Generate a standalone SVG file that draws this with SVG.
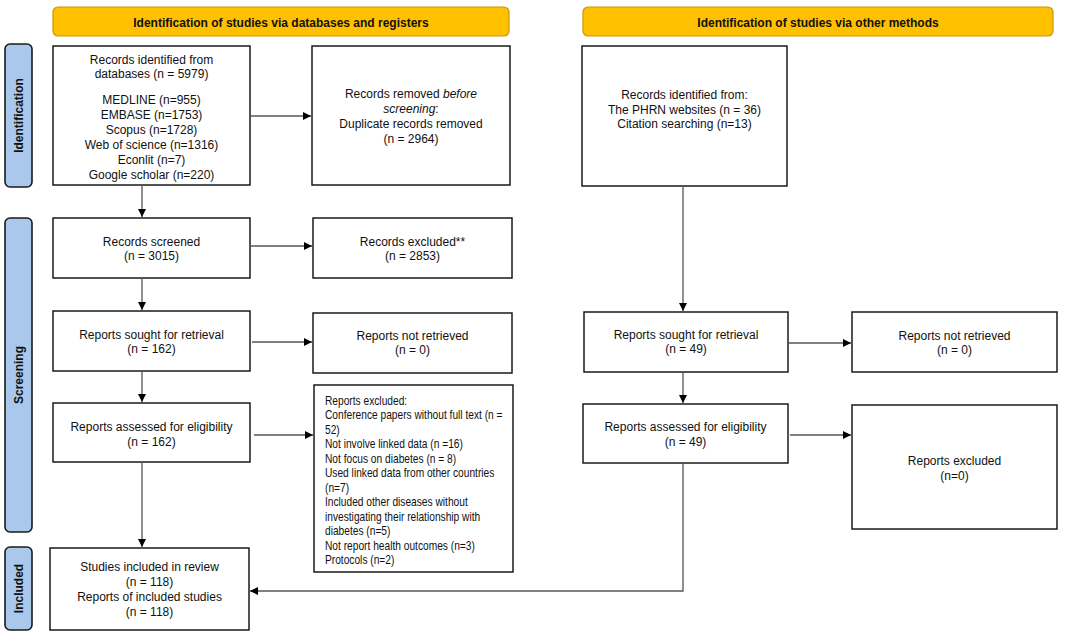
<svg xmlns="http://www.w3.org/2000/svg" width="1084" height="639" viewBox="0 0 1084 639">
<defs>
<marker id="ah" viewBox="0 0 10 10" refX="10" refY="5" markerWidth="8" markerHeight="8" markerUnits="userSpaceOnUse" orient="auto"><path d="M0,0 L10,5 L0,10 z" fill="#000"/></marker>
<style>
.hdr{fill:#FFC000;stroke:#C99800;stroke-width:1.2}
.side{fill:#A9C8EC;stroke:#1a1a1a;stroke-width:1.6}
.box{fill:#fff;stroke:#1a1a1a;stroke-width:1.5}
text{font-family:"Liberation Sans",Arial,sans-serif;font-size:12px;fill:#111}
.c{text-anchor:middle}
.b{font-weight:bold}
.conn{fill:none;stroke:#555;stroke-width:1.3}
</style>
</defs>
<rect width="1084" height="639" fill="#fff"/>
<g id="header-db"><rect class="hdr" x="53" y="7" width="456" height="29" rx="5"/><text class="c b" x="281" y="27">Identification of studies via databases and registers</text></g>
<g id="header-other"><rect class="hdr" x="583" y="7" width="470" height="29" rx="5"/><text class="c b" x="818" y="27">Identification of studies via other methods</text></g>
<g id="side-identification"><rect class="side" x="5" y="44" width="27" height="143" rx="5"/><text class="c b" transform="translate(23,115.5) rotate(-90)">Identification</text></g>
<g id="side-screening"><rect class="side" x="5" y="218" width="27" height="314" rx="5"/><text class="c b" transform="translate(23,375) rotate(-90)">Screening</text></g>
<g id="side-included"><rect class="side" x="5" y="547" width="27" height="83" rx="5"/><text class="c b" transform="translate(23,588.5) rotate(-90)">Included</text></g>
<g id="records-identified"><rect class="box" x="53" y="46" width="197" height="139"/>
<text class="c" x="151.5" y="64">Records identified from</text><text class="c" x="151.5" y="78">databases (n = 5979)</text>
<text class="c" x="151.5" y="104">MEDLINE (n=955)</text><text class="c" x="151.5" y="119">EMBASE (n=1753)</text><text class="c" x="151.5" y="134">Scopus (n=1728)</text><text class="c" x="151.5" y="149">Web of science (n=1316)</text><text class="c" x="151.5" y="164">Econlit (n=7)</text><text class="c" x="151.5" y="179">Google scholar (n=220)</text></g>
<g id="records-removed"><rect class="box" x="312" y="46" width="198" height="139"/>
<text class="c" x="411" y="98">Records removed <tspan font-style="italic">before</tspan></text><text class="c" x="411" y="113"><tspan font-style="italic">screening</tspan>:</text><text class="c" x="411" y="128">Duplicate records removed</text><text class="c" x="411" y="143">(n = 2964)</text></g>
<g id="records-other"><rect class="box" x="582" y="46" width="205" height="140"/>
<text class="c" x="684.5" y="99">Records identified from:</text><text class="c" x="684.5" y="114">The PHRN websites (n = 36)</text><text class="c" x="684.5" y="128">Citation searching (n=13)</text></g>
<g id="records-screened"><rect class="box" x="53" y="218" width="197" height="60"/><text class="c" x="151.5" y="246">Records screened</text><text class="c" x="151.5" y="260">(n = 3015)</text></g>
<g id="records-excluded"><rect class="box" x="313" y="218" width="199" height="60"/><text class="c" x="412.5" y="246">Records excluded**</text><text class="c" x="412.5" y="260">(n = 2853)</text></g>
<g id="sought-db"><rect class="box" x="53" y="311" width="197" height="60"/><text class="c" x="151.5" y="339">Reports sought for retrieval</text><text class="c" x="151.5" y="353">(n = 162)</text></g>
<g id="not-retrieved-db"><rect class="box" x="313" y="313" width="199" height="60"/><text class="c" x="412.5" y="340">Reports not retrieved</text><text class="c" x="412.5" y="354">(n = 0)</text></g>
<g id="assessed-db"><rect class="box" x="53" y="403" width="197" height="59"/><text class="c" x="151.5" y="431">Reports assessed for eligibility</text><text class="c" x="151.5" y="446">(n = 162)</text></g>
<g id="excluded-db"><rect class="box" x="314" y="385" width="199" height="187"/>
<g transform="translate(325,0) scale(0.85,1)">
<text x="0" y="405">Reports excluded:</text>
<text x="0" y="419.5">Conference papers without full text (n =</text>
<text x="0" y="434">52)</text>
<text x="0" y="448.5">Not involve linked data (n =16)</text>
<text x="0" y="463">Not focus on diabetes (n = 8)</text>
<text x="0" y="477.5">Used linked data from other countries</text>
<text x="0" y="492">(n=7)</text>
<text x="0" y="506.5">Included other diseases without</text>
<text x="0" y="521">investigating their relationship with</text>
<text x="0" y="535.5">diabetes (n=5)</text>
<text x="0" y="550">Not report health outcomes (n=3)</text>
<text x="0" y="564.5">Protocols (n=2)</text>
</g></g>
<g id="included"><rect class="box" x="50" y="548" width="199" height="82"/>
<text class="c" x="149.5" y="571">Studies included in review</text><text class="c" x="149.5" y="586">(n = 118)</text><text class="c" x="149.5" y="601">Reports of included studies</text><text class="c" x="149.5" y="616">(n = 118)</text></g>
<g id="sought-other"><rect class="box" x="584" y="312" width="204" height="60"/><text class="c" x="686" y="339">Reports sought for retrieval</text><text class="c" x="686" y="353">(n = 49)</text></g>
<g id="not-retrieved-other"><rect class="box" x="852" y="312" width="205" height="60"/><text class="c" x="954.5" y="340">Reports not retrieved</text><text class="c" x="954.5" y="354">(n = 0)</text></g>
<g id="assessed-other"><rect class="box" x="583" y="404" width="205" height="59"/><text class="c" x="685.5" y="431">Reports assessed for eligibility</text><text class="c" x="685.5" y="446">(n = 49)</text></g>
<g id="excluded-other"><rect class="box" x="852" y="405" width="205" height="124"/><text class="c" x="954.5" y="465">Reports excluded</text><text class="c" x="954.5" y="480">(n=0)</text></g>
<g id="connectors">
<path class="conn" d="M250,116 H311" marker-end="url(#ah)"/>
<path class="conn" d="M142,185 V217" marker-end="url(#ah)"/>
<path class="conn" d="M250,246 H312" marker-end="url(#ah)"/>
<path class="conn" d="M142,278 V310" marker-end="url(#ah)"/>
<path class="conn" d="M252,342 H312" marker-end="url(#ah)"/>
<path class="conn" d="M142,371 V402" marker-end="url(#ah)"/>
<path class="conn" d="M254,435 H313" marker-end="url(#ah)"/>
<path class="conn" d="M142,462 V547" marker-end="url(#ah)"/>
<path class="conn" d="M683,186 V311" marker-end="url(#ah)"/>
<path class="conn" d="M788,343 H851" marker-end="url(#ah)"/>
<path class="conn" d="M683,372 V403" marker-end="url(#ah)"/>
<path class="conn" d="M790,435 H851" marker-end="url(#ah)"/>
<path class="conn" d="M683,463 V591 H250" marker-end="url(#ah)"/>
</g>
</svg>
